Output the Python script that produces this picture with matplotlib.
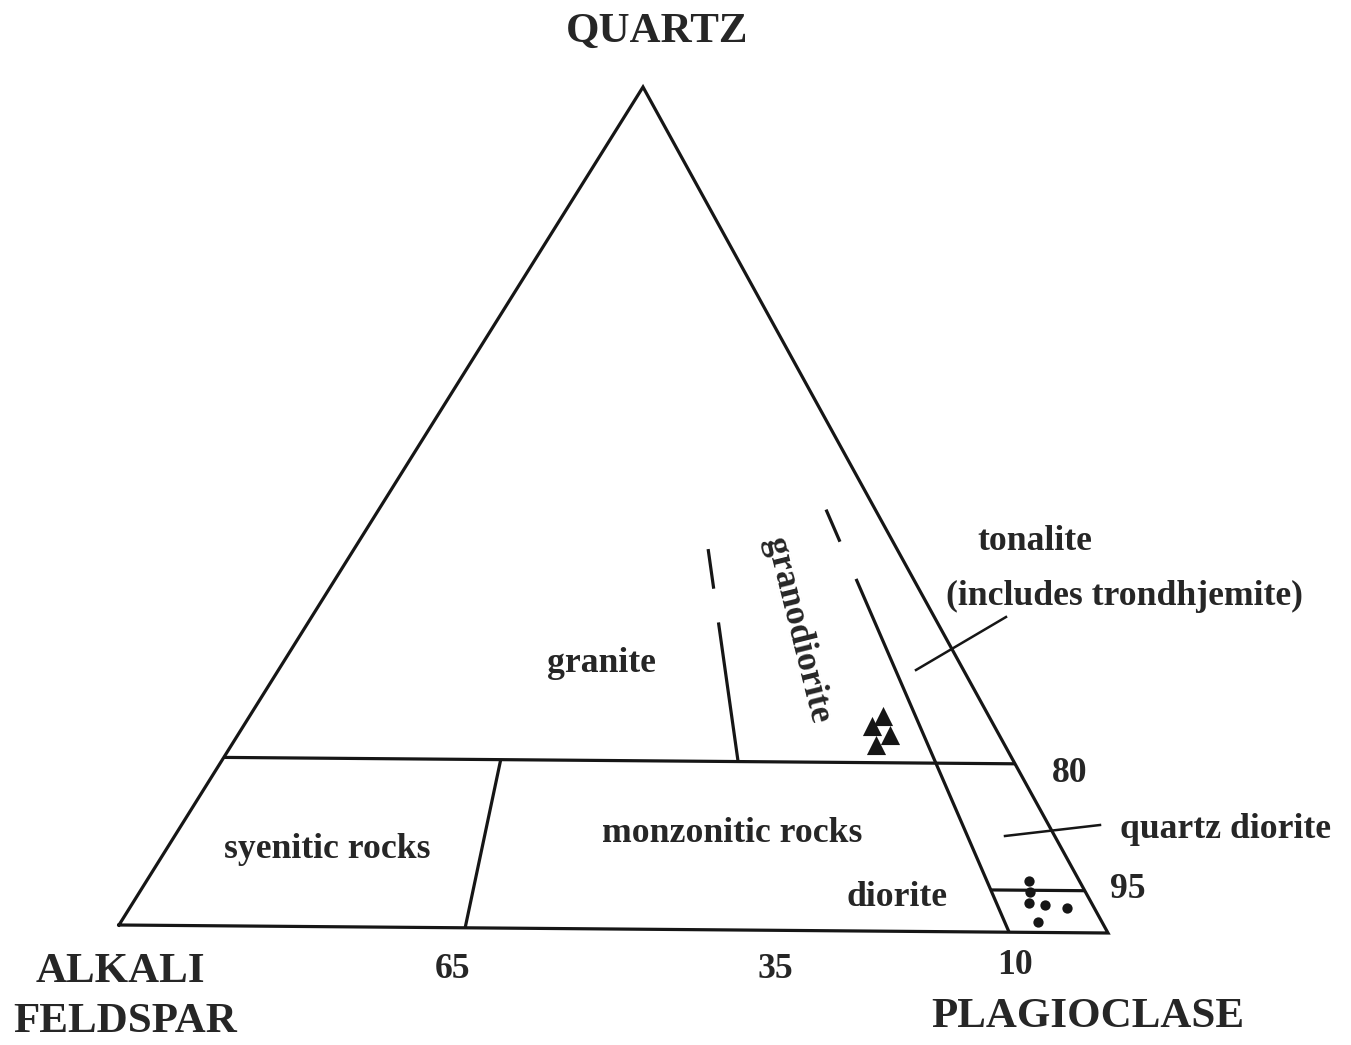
import matplotlib
matplotlib.use("Agg")
import matplotlib.pyplot as plt
import numpy as np

# --- QAP classification data (fractions) ---
# feldspar ratio boundaries, P/(A+P)
ratio_bounds = [0.35, 0.65, 0.90]
bottom_labels = ["65", "35", "10"]          # alkali feldspar percent at each boundary
# quartz boundaries
q_bounds = [0.20, 0.05]
side_labels = ["80", "95"]                  # feldspar percent at each quartz boundary

# samples plotted as triangles (A, P, Q)
tri_A = [0.108, 0.124, 0.111, 0.131]
tri_P = [0.637, 0.633, 0.656, 0.648]
tri_Q = [0.255, 0.243, 0.233, 0.221]

# samples plotted as dots (A, P, Q)
dot_A = [0.051, 0.056, 0.063, 0.048, 0.028, 0.065]
dot_P = [0.888, 0.896, 0.902, 0.919, 0.943, 0.923]
dot_Q = [0.061, 0.048, 0.035, 0.033, 0.029, 0.012]

# --- layout: triangle corners on the page (pixels) ---
CORNER_A = np.array([119.0, 925.0])
CORNER_P = np.array([1108.0, 933.0])
CORNER_Q = np.array([643.0, 87.0])

# page positions of the boundary value labels
bottom_label_xy = [(452, 969), (775, 969), (1015, 966)]
side_label_xy = [(1070, 774), (1128, 890)]

INK = "#161616"
TXT = "#262626"
LW = 2.3


def to_xy(a, p, q):
    a, p, q = np.asarray(a, float), np.asarray(p, float), np.asarray(q, float)
    s = a + p + q
    a, p, q = a / s, p / s, q / s
    x = a * CORNER_A[0] + p * CORNER_P[0] + q * CORNER_Q[0]
    y = a * CORNER_A[1] + p * CORNER_P[1] + q * CORNER_Q[1]
    return x, y


def ratio_point(r, q):
    """Point with quartz fraction q and P/(A+P) = r."""
    return to_xy((1 - q) * (1 - r), (1 - q) * r, q)


def seg(ax, p0, p1, **kw):
    ax.plot([p0[0], p1[0]], [p0[1], p1[1]], color=INK, lw=LW,
            solid_capstyle="butt", **kw)


fig = plt.figure(figsize=(13.51, 10.45), dpi=100)
ax = fig.add_axes([0, 0, 1, 1])
ax.set_xlim(0, 1351)
ax.set_ylim(1045, 0)
ax.axis("off")

# outer triangle
ox, oy = to_xy([1, 0, 0, 1], [0, 1, 0, 0], [0, 0, 1, 0])
ax.plot(ox, oy, color=INK, lw=LW, solid_joinstyle="miter")

# quartz = 20 % line across the whole triangle
seg(ax, to_xy(1 - q_bounds[0], 0, q_bounds[0]), to_xy(0, 1 - q_bounds[0], q_bounds[0]))
# quartz = 5 % line inside the plagioclase corner
seg(ax, ratio_point(ratio_bounds[2], q_bounds[1]), to_xy(0, 1 - q_bounds[1], q_bounds[1]))

# syenite / monzonite boundary
seg(ax, ratio_point(ratio_bounds[0], 0.0), ratio_point(ratio_bounds[0], q_bounds[0]))
# granite / granodiorite boundary, solid then dashed upward
seg(ax, ratio_point(ratio_bounds[1], q_bounds[0]), ratio_point(ratio_bounds[1], 0.365))
seg(ax, ratio_point(ratio_bounds[1], 0.405), ratio_point(ratio_bounds[1], 0.452))
# granodiorite / tonalite boundary, solid then dashed upward
seg(ax, ratio_point(ratio_bounds[2], 0.0), ratio_point(ratio_bounds[2], 0.418))
seg(ax, ratio_point(ratio_bounds[2], 0.462), ratio_point(ratio_bounds[2], 0.500))

# leader lines for labels
ax.plot([916, 1006], [670, 617], color=INK, lw=1.8)
ax.plot([1005, 1100], [836, 825], color=INK, lw=1.8)

# samples
tx, ty = to_xy(tri_A, tri_P, tri_Q)
ax.scatter(tx, ty, marker="^", s=190, color=INK, linewidths=0, zorder=5)
dx, dy = to_xy(dot_A, dot_P, dot_Q)
ax.scatter(dx, dy, marker="o", s=55, color=INK, linewidths=0, zorder=5)

# text
serif = ["Liberation Serif", "DejaVu Serif"]
big = dict(fontsize=31, fontweight="bold", family=serif, color=TXT,
           ha="center", va="center")
small = dict(fontsize=25.7, fontweight="bold", family=serif, color=TXT,
             ha="center", va="center")

ax.text(657, 32, "QUARTZ", **big)
ax.text(120, 972, "ALKALI", **big)
ax.text(125, 1022, "FELDSPAR", **big)
ax.text(1088, 1017, "PLAGIOCLASE", **big)

ax.text(601, 664, "granite", **small)
ax.text(797, 630, "granodiorite", rotation=-76, rotation_mode="anchor", **small)
ax.text(1035, 542, "tonalite", **small)
ax.text(1125, 596, "(includes trondhjemite)", **small)
ax.text(327, 850, "syenitic rocks", **small)
ax.text(732, 834, "monzonitic rocks", **small)
ax.text(897, 897, "diorite", **small)
ax.text(1225, 830, "quartz diorite", **small)

# boundary value labels
for (bx, by), lab in zip(bottom_label_xy, bottom_labels):
    ax.text(bx, by, lab, **small)
for (sx, sy), lab in zip(side_label_xy, side_labels):
    ax.text(sx, sy, lab, **small)

fig.savefig("out.png", dpi=100, facecolor="white")
